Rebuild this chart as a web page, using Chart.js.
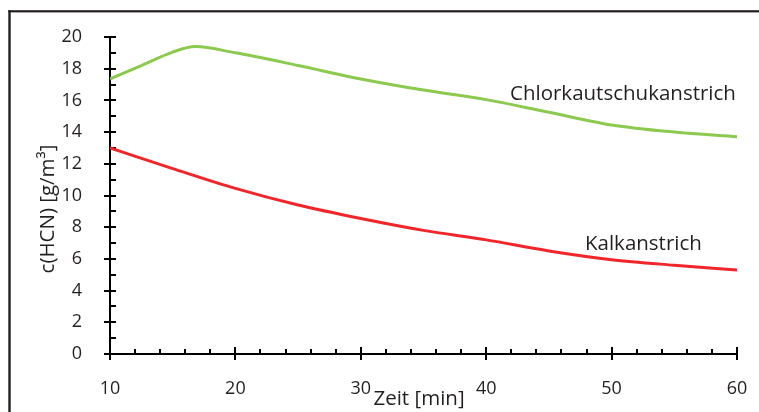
<!DOCTYPE html>
<html>
<head>
<meta charset="utf-8">
<script src="https://cdn.jsdelivr.net/npm/chart.js@4"></script>
<style>
  html, body { margin: 0; padding: 0; background: #fff; overflow: hidden; }
  canvas { display: block; }
</style>
</head>
<body>
<canvas id="chart" width="759" height="412"></canvas>
<script>
// time in minutes
const zeit = [10, 12.5, 15, 16.8, 20, 25, 30, 35, 40, 45, 50, 55, 60];
// c(HCN) [g/m³]
const chlorkautschuk = [17.35, 18.2, 19.05, 19.4, 19.0, 18.2, 17.35, 16.65, 16.05, 15.25, 14.45, 14.0, 13.7];
const zeitKalk = [10, 15, 20, 25, 30, 35, 40, 45, 50, 55, 60];
const kalk = [13.0, 11.7, 10.45, 9.4, 8.55, 7.8, 7.2, 6.5, 5.95, 5.6, 5.3];

const seriesNames = ['Chlorkautschukanstrich', 'Kalkanstrich'];
const xTitle = 'Zeit [min]';
const yTitle = 'c(HCN) [g/m³]';

const FONT = '"Open Sans", sans-serif';
const TEXT = '#231f20';

// frame, axes, tick marks, titles and in-plot labels
const decorPlugin = {
  id: 'decor',
  beforeDatasetsDraw(chart) {
    const ctx = chart.ctx;
    const xs = chart.scales.x, ys = chart.scales.y;
    const x0 = xs.getPixelForValue(10), y0 = ys.getPixelForValue(0);
    ctx.save();
    // outer frame (left + top), cut off by the picture edge
    ctx.fillStyle = '#231f20';
    ctx.fillRect(8.3, 10.2, 2.4, 412);
    ctx.fillRect(8.3, 10.2, 759, 2.2);

    ctx.strokeStyle = '#000';
    ctx.lineWidth = 2;
    // y axis ticks
    for (let v = 0; v <= 20; v++) {
      const py = Math.round(ys.getPixelForValue(v));
      ctx.beginPath();
      if (v % 2 === 0) { ctx.moveTo(x0 - 6, py); ctx.lineTo(x0 + 6, py); }
      else { ctx.moveTo(x0, py); ctx.lineTo(x0 + 6, py); }
      ctx.stroke();
    }
    // x axis ticks
    for (let v = 10; v <= 60; v += 2) {
      const px = Math.round(xs.getPixelForValue(v));
      ctx.beginPath();
      if (v % 10 === 0) { ctx.moveTo(px, y0 + 6); ctx.lineTo(px, y0 - 7); }
      else { ctx.moveTo(px, y0); ctx.lineTo(px, y0 - 5); }
      ctx.stroke();
    }
    // axis lines
    ctx.beginPath();
    ctx.moveTo(x0, ys.getPixelForValue(20));
    ctx.lineTo(x0, y0);
    ctx.lineTo(xs.getPixelForValue(60), y0);
    ctx.stroke();

    // axis titles
    ctx.fillStyle = TEXT;
    ctx.font = '20.5px ' + FONT;
    ctx.textAlign = 'center';
    ctx.textBaseline = 'alphabetic';
    ctx.fillText(xTitle, 419, 405);
    ctx.save();
    ctx.translate(54, 209);
    ctx.rotate(-Math.PI / 2);
    ctx.fillText(yTitle, 0, 0);
    ctx.restore();

    // series labels
    ctx.textAlign = 'left';
    ctx.fillText(seriesNames[0], 510, 100);
    ctx.fillText(seriesNames[1], 585, 250);
    ctx.restore();
  }
};

new Chart(document.getElementById('chart'), {
  type: 'line',
  data: {
    datasets: [
      {
        label: seriesNames[0],
        data: zeit.map((t, i) => ({ x: t, y: chlorkautschuk[i] })),
        borderColor: '#8cc94f',
        borderWidth: 3,
        pointRadius: 0,
        cubicInterpolationMode: 'monotone',
        fill: false
      },
      {
        label: seriesNames[1],
        data: zeitKalk.map((t, i) => ({ x: t, y: kalk[i] })),
        borderColor: '#f0262a',
        borderWidth: 3,
        pointRadius: 0,
        cubicInterpolationMode: 'monotone',
        fill: false
      }
    ]
  },
  options: {
    responsive: false,
    animation: false,
    layout: { padding: { top: 37, right: 22, left: 0, bottom: 0 } },
    plugins: { legend: { display: false }, tooltip: { enabled: false } },
    scales: {
      x: {
        type: 'linear',
        min: 10, max: 60,
        grid: { display: false },
        border: { display: false },
        ticks: { stepSize: 10, color: TEXT, font: { family: FONT, size: 18 }, padding: 16, maxRotation: 0 },
        afterFit(scale) {
          scale.height = 58;
          scale.paddingLeft = 0;
          scale.paddingRight = 0;
        }
      },
      y: {
        min: 0, max: 20,
        grid: { display: false },
        border: { display: false },
        ticks: { stepSize: 2, color: TEXT, font: { family: FONT, size: 18 }, padding: 20 },
        afterFit(scale) {
          scale.width = 110;
          scale.paddingTop = 0;
          scale.paddingBottom = 0;
        }
      }
    }
  },
  plugins: [decorPlugin]
});
</script>
</body>
</html>
